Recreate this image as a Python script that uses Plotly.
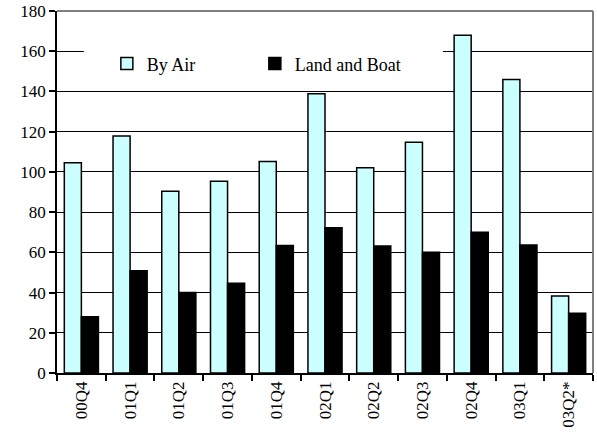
import plotly.graph_objects as go

categories = ["00Q4", "01Q1", "01Q2", "01Q3", "01Q4", "02Q1", "02Q2", "02Q3", "02Q4", "03Q1", "03Q2*"]
by_air = [104.5, 117.8, 90.4, 95.4, 105.2, 138.9, 102.0, 114.7, 167.9, 146.0, 38.3]
land_and_boat = [28.0, 50.8, 40.0, 44.6, 63.4, 72.2, 63.2, 60.1, 70.0, 63.6, 29.7]
y_ticks = [0, 20, 40, 60, 80, 100, 120, 140, 160, 180]

FONT = "Liberation Serif"

fig = go.Figure()
fig.add_trace(go.Bar(
    x=categories, y=by_air, name="By Air",
    marker=dict(color="#CCFFFF", line=dict(color="black", width=1.5)),
))
fig.add_trace(go.Bar(
    x=categories, y=land_and_boat, name="Land and Boat",
    marker=dict(color="black", line=dict(color="black", width=1.5)),
))

fig.update_layout(
    width=597, height=434,
    margin=dict(l=57, r=4, t=11, b=61, autoexpand=False),
    paper_bgcolor="white", plot_bgcolor="white",
    barmode="group", bargap=0.3, bargroupgap=0,
    font=dict(family=FONT, size=17, color="black"),
    showlegend=True,
    legend=dict(
        orientation="h", x=0.093, xanchor="left", y=0.905, yanchor="top",
        bgcolor="white", borderwidth=0,
        entrywidth=103, entrywidthmode="pixels",
        font=dict(family=FONT, size=18, color="black"),
        traceorder="normal",
    ),
    xaxis=dict(
        type="category", tickangle=-90, tickson="boundaries", automargin=False,
        ticks="outside", ticklen=6, tickcolor="black", tickwidth=1.5,
        showline=True, linecolor="black", linewidth=1.5,
        showgrid=False, tickfont=dict(family=FONT, size=17),
    ),
    yaxis=dict(
        range=[0, 180], tickvals=y_ticks, automargin=False,
        ticks="outside", ticklen=6, tickcolor="black", tickwidth=1.5,
        showline=True, linecolor="black", linewidth=1.5,
        showgrid=True, gridcolor="black", gridwidth=1,
        zeroline=False, tickfont=dict(family=FONT, size=17),
    ),
)

# the legend box hides part of the 160 gridline
fig.add_shape(type="line", xref="paper", yref="y", x0=0.05, x1=0.72, y0=160, y1=160,
              line=dict(color="white", width=3), layer="above")

# grey top and right border of plot area
fig.add_shape(type="line", xref="paper", yref="paper", x0=0, x1=1, y0=1, y1=1,
              line=dict(color="#808080", width=2), layer="above")
fig.add_shape(type="line", xref="paper", yref="paper", x0=1, x1=1, y0=0, y1=1,
              line=dict(color="#808080", width=2), layer="above")

fig.write_html("out.html", config={"displayModeBar": False},
               post_script="document.body.style.margin='0';")
